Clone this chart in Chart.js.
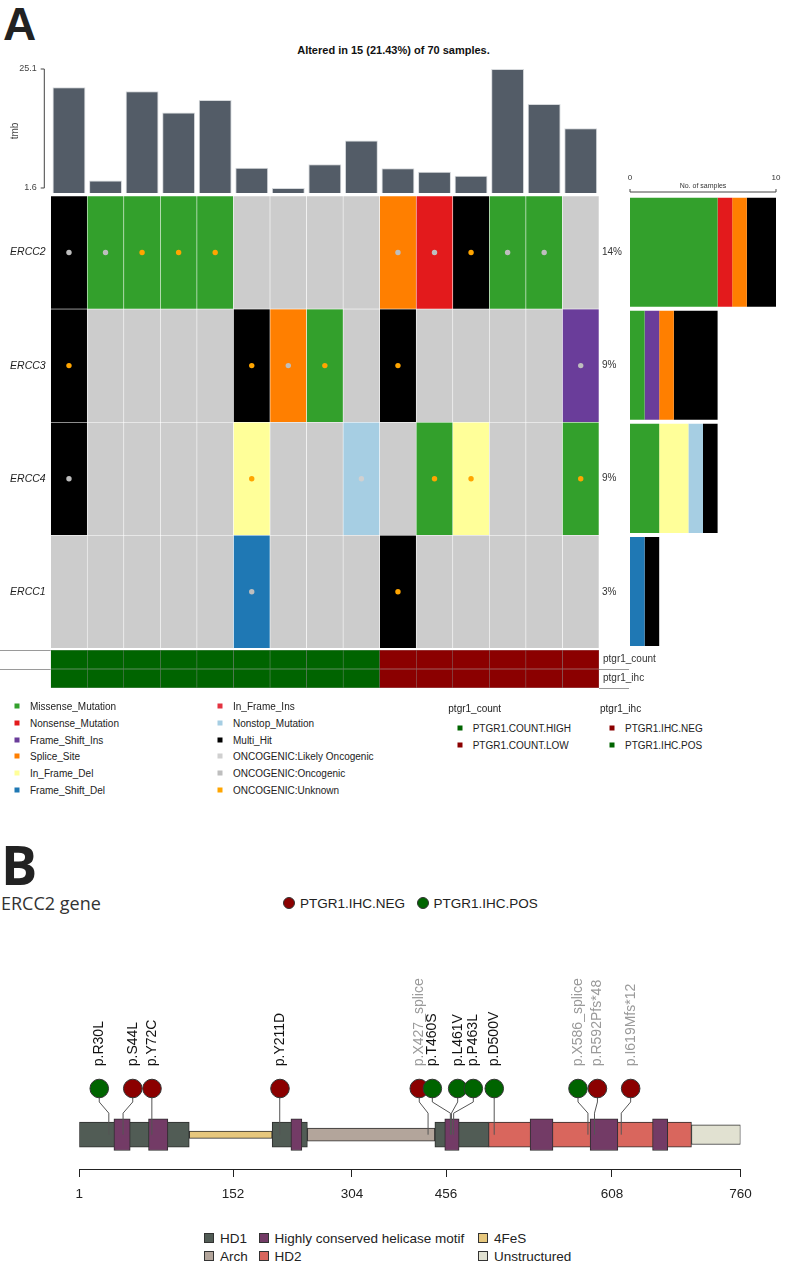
<!DOCTYPE html>
<html>
<head>
<meta charset="utf-8">
<title>ERCC oncoplot</title>
<script src="https://cdn.jsdelivr.net/npm/chart.js@4.4.1/dist/chart.umd.min.js"></script>
<style>
  html, body { margin: 0; padding: 0; background: #fff; }
  #page { position: relative; width: 787px; height: 1277px; overflow: hidden;
          font-family: 'Liberation Sans', Arial, sans-serif; color: #222; }
  .box { position: absolute; }
  .txt { position: absolute; white-space: nowrap; line-height: 1; transform: translateY(-50%); }
  .sq { position: absolute; transform: translate(-50%, -50%); }
</style>
</head>
<body>
<div id="page">
  <div class="txt" style="left:3px;top:24px;font:bold 46px 'Liberation Sans';">A</div>
  <div class="txt" style="left:0;width:787px;text-align:center;top:50px;font:bold 11px 'Liberation Sans';color:#111;">Altered in 15 (21.43%) of 70 samples.</div>

  <div class="box" style="left:0;top:0;width:787px;height:213px;"><canvas id="tmbChart"></canvas></div>
  <div class="box" style="left:0;top:183.7px;width:787px;height:476.3px;"><canvas id="gridChart"></canvas></div>
  <div class="box" style="left:599px;top:170px;width:188px;height:480px;"><canvas id="countChart"></canvas></div>
  <div class="box" style="left:0;top:640px;width:787px;height:58px;"><canvas id="annoChart"></canvas></div>
  <div id="legendA"></div>

  <div class="txt" style="left:1px;top:864px;font:bold 54px 'Open Sans';">B</div>
  <div class="txt" style="left:1px;top:903px;font:18px 'Open Sans';color:#333;">ERCC2 gene</div>
  <div id="legendB"></div>
  <div class="box" style="left:0;top:960px;width:787px;height:240px;"><canvas id="lolliChart"></canvas></div>
  <div id="legendDomains"></div>
</div>

<script>
// ─── Datos: oncoplot (panel A) ─────────────────────────
const genes = ['ERCC2', 'ERCC3', 'ERCC4', 'ERCC1'];
const totalSamples = 70;
const sampleIds = ['S01', 'S02', 'S03', 'S04', 'S05', 'S06', 'S07', 'S08', 'S09', 'S10', 'S11', 'S12', 'S13', 'S14', 'S15'];
const tmb = [21.5, 3.1, 20.7, 16.5, 19.0, 5.6, 1.6, 6.3, 11.0, 5.5, 4.8, 4.0, 25.1, 18.2, 13.4];
const tmbTicks = [1.6, 25.1];

// variant classification per gene (MS missense, NS nonsense, FI frame-shift ins, SS splice,
// ID in-frame del, NT nonstop, FD frame-shift del, MH multi hit, '' none)
const vcERCC2 = ['MH', 'MS', 'MS', 'MS', 'MS', '', '', '', '', 'SS', 'NS', 'MH', 'MS', 'MS', ''];
const vcERCC3 = ['MH', '', '', '', '', 'MH', 'SS', 'MS', '', 'MH', '', '', '', '', 'FI'];
const vcERCC4 = ['MH', '', '', '', '', 'ID', '', '', 'NT', '', 'MS', 'ID', '', '', 'MS'];
const vcERCC1 = ['', '', '', '', '', 'FD', '', '', '', 'MH', '', '', '', '', ''];

// oncogenic annotation dots (L likely oncogenic, O oncogenic, U unknown)
const onERCC2 = ['O', 'O', 'U', 'U', 'U', '', '', '', '', 'O', 'O', 'U', 'O', 'O', ''];
const onERCC3 = ['U', '', '', '', '', 'U', 'O', 'U', '', 'U', '', '', '', '', 'O'];
const onERCC4 = ['O', '', '', '', '', 'U', '', '', 'L', '', 'U', 'U', '', '', 'U'];
const onERCC1 = ['', '', '', '', '', 'O', '', '', '', 'U', '', '', '', '', ''];

const ptgr1Count = ['HIGH', 'HIGH', 'HIGH', 'HIGH', 'HIGH', 'HIGH', 'HIGH', 'HIGH', 'HIGH', 'LOW', 'LOW', 'LOW', 'LOW', 'LOW', 'LOW'];
const ptgr1Ihc = ['POS', 'POS', 'POS', 'POS', 'POS', 'POS', 'POS', 'POS', 'POS', 'NEG', 'NEG', 'NEG', 'NEG', 'NEG', 'NEG'];
const countTicks = [0, 10];

// ─── Datos: lollipop ERCC2 (panel B) ───────────────────
const mutLabels = ['p.R30L', 'p.S44L', 'p.Y72C', 'p.Y211D', 'p.X427_splice', 'p.T460S', 'p.L461V', 'p.P463L', 'p.D500V', 'p.X586_splice', 'p.R592Pfs*48', 'p.I619Mfs*12'];
const mutPos = [30, 44, 72, 211, 427, 460, 461, 463, 500, 586, 592, 619];
const mutHead = [20.6, 53.5, 72.4, 212, 412.8, 433.9, 466.7, 481, 500.2, 576.9, 594.7, 630.1];   // spread-out head positions (aa)
const mutIhc = ['POS', 'NEG', 'NEG', 'NEG', 'NEG', 'POS', 'POS', 'POS', 'POS', 'POS', 'NEG', 'NEG'];
const proteinTicks = [1, 152, 304, 456, 608, 760];

const hd1Ranges = [[1, 109], [202, 247], [438, 495]];
const motifRanges = [[35, 51], [69, 88], [226, 240], [454, 468], [533, 554], [588, 615], [656, 674]];
const feSRanges = [[109, 202]];
const archRanges = [[247, 438]];
const hd2Ranges = [[495, 702]];
const unstructRanges = [[702, 760]];

// ─── Estilos ───────────────────────────────────────────
const vcNames = { MS: 'Missense_Mutation', NS: 'Nonsense_Mutation', FI: 'Frame_Shift_Ins', SS: 'Splice_Site',
  ID: 'In_Frame_Del', FD: 'Frame_Shift_Del', II: 'In_Frame_Ins', NT: 'Nonstop_Mutation', MH: 'Multi_Hit' };
const vcColor = { MS: '#33A02C', NS: '#E31A1C', FI: '#6A3D9A', SS: '#FF7F00', ID: '#FFFF99',
  FD: '#1F78B4', II: '#E33340', NT: '#A6CEE3', MH: '#000000' };
const onColor = { L: '#D0D0D0', O: '#BEBEBE', U: '#FFA500' };
const emptyCell = '#CCCCCC';
const annoColor = { HIGH: '#006400', LOW: '#8B0000', POS: '#006400', NEG: '#8B0000' };
const domainColor = { hd1: '#515C55', motif: '#733B66', fes: '#E6C77D', arch: '#B3A59B', hd2: '#D9665D', un: '#E1E1D1' };

Chart.defaults.font.family = "'Liberation Sans', Arial, sans-serif";
Chart.defaults.color = '#222';
Chart.defaults.animation = false;
Chart.defaults.plugins.legend.display = false;
Chart.defaults.plugins.tooltip.enabled = false;

const vcRows = [vcERCC2, vcERCC3, vcERCC4, vcERCC1];
const onRows = [onERCC2, onERCC3, onERCC4, onERCC1];
const leftW = 50.7, rightW = 188;
const noGrid = { display: false, drawTicks: false };

// ─── TMB bars ──────────────────────────────────────────
new Chart(document.getElementById('tmbChart'), {
  type: 'bar',
  data: {
    labels: sampleIds,
    datasets: [{
      data: tmb, backgroundColor: '#535C67', borderColor: '#D6D9DC', borderWidth: 1,
      barPercentage: 0.9, categoryPercentage: 1, borderSkipped: false,
    }],
  },
  options: {
    responsive: true, maintainAspectRatio: false,
    layout: { padding: { top: 69, bottom: 20, right: rightW } },
    scales: {
      x: { display: false },
      y: {
        min: 0.61, max: 25.1,
        afterFit: (s) => { s.width = leftW; },
        afterBuildTicks: (s) => { s.ticks = tmbTicks.map((v) => ({ value: v })); },
        ticks: { autoSkip: false, padding: 14, color: '#444', font: { size: 9 }, callback: (v) => String(v) },
        grid: noGrid, border: { display: false },
      },
    },
  },
  plugins: [{
    id: 'tmbAxis',
    afterDraw(chart) {
      const { ctx, chartArea } = chart, y = chart.scales.y;
      const x = chartArea.left - 6.4;
      ctx.save();
      ctx.strokeStyle = '#444'; ctx.lineWidth = 1;
      ctx.beginPath();
      ctx.moveTo(x, y.getPixelForValue(tmbTicks[0])); ctx.lineTo(x, y.getPixelForValue(tmbTicks[1]));
      tmbTicks.forEach((v) => { const py = y.getPixelForValue(v); ctx.moveTo(x, py); ctx.lineTo(x - 3.6, py); });
      ctx.stroke();
      ctx.translate(15, (chartArea.top + chartArea.bottom) / 2);
      ctx.rotate(-Math.PI / 2);
      ctx.fillStyle = '#444'; ctx.font = "10px 'Liberation Sans'";
      ctx.textAlign = 'center'; ctx.textBaseline = 'middle';
      ctx.fillText('tmb', 0, 0);
      ctx.restore();
    },
  }],
});

// ─── Oncoplot grid ─────────────────────────────────────
const rowTicks = (s) => { s.ticks = genes.map((g, i) => ({ value: i + 0.5 })); };
const pctLabels = vcRows.map((r) => Math.round(r.filter((c) => c).length / totalSamples * 100) + '%');

new Chart(document.getElementById('gridChart'), {
  type: 'bar',
  data: {
    labels: sampleIds,
    datasets: [
      ...onRows.map((row, gi) => ({
        type: 'line', showLine: false,
        data: row.map((o) => (o ? gi + 0.5 : null)),
        pointRadius: 2.7, pointBorderWidth: 0,
        pointBackgroundColor: row.map((o) => onColor[o] || 'transparent'),
      })),
      ...vcRows.map((row, gi) => ({
        label: genes[gi],
        data: row.map(() => [gi, gi + 1]),
        backgroundColor: row.map((c) => vcColor[c] || emptyCell),
        borderColor: 'rgba(255,255,255,0.45)', borderWidth: 0.6, borderSkipped: false,
        grouped: false, barPercentage: 1, categoryPercentage: 1,
      })),
    ],
  },
  options: {
    responsive: true, maintainAspectRatio: false,
    layout: { padding: { top: 12, bottom: 12 } },
    scales: {
      x: { display: false },
      y: {
        min: 0, max: 4, reverse: true,
        afterFit: (s) => { s.width = leftW; }, afterBuildTicks: rowTicks,
        ticks: { autoSkip: false, padding: 5, font: { size: 10.5, style: 'italic' }, callback: (v, i) => genes[i] },
        grid: noGrid, border: { display: false },
      },
      y2: {
        position: 'right', min: 0, max: 4, reverse: true,
        afterFit: (s) => { s.width = rightW; }, afterBuildTicks: rowTicks,
        ticks: { autoSkip: false, padding: 3, font: { size: 10 }, color: '#333', callback: (v, i) => pctLabels[i] },
        grid: noGrid, border: { display: false },
      },
    },
  },
});

// ─── Samples per gene (right bars) ─────────────────────
const vcOrder = ['MS', 'NS', 'FI', 'SS', 'ID', 'NT', 'FD', 'MH'];
new Chart(document.getElementById('countChart'), {
  type: 'bar',
  data: {
    labels: genes,
    datasets: vcOrder.map((k) => ({
      label: vcNames[k],
      data: vcRows.map((r) => r.filter((c) => c === k).length),
      backgroundColor: vcColor[k], borderWidth: 0,
      barPercentage: 0.965, categoryPercentage: 1,
    })),
  },
  options: {
    indexAxis: 'y', responsive: true, maintainAspectRatio: false,
    layout: { padding: { left: 31, right: 11, top: 25.7, bottom: 2 } },
    scales: {
      x: { display: false, stacked: true, min: countTicks[0], max: countTicks[1] },
      y: { display: false, stacked: true },
    },
  },
  plugins: [{
    id: 'countAxis',
    afterDraw(chart) {
      const { ctx, chartArea } = chart, x = chart.scales.x;
      const y = chartArea.top - 3.7;
      const x0 = x.getPixelForValue(countTicks[0]), x1 = x.getPixelForValue(countTicks[1]);
      ctx.save();
      ctx.strokeStyle = '#444'; ctx.lineWidth = 1;
      ctx.beginPath();
      ctx.moveTo(x0, y); ctx.lineTo(x1, y);
      countTicks.forEach((v) => { const px = x.getPixelForValue(v); ctx.moveTo(px, y); ctx.lineTo(px, y - 3); });
      ctx.stroke();
      ctx.fillStyle = '#333'; ctx.textAlign = 'center'; ctx.textBaseline = 'middle';
      ctx.font = "8px 'Liberation Sans'";
      countTicks.forEach((v) => ctx.fillText(String(v), x.getPixelForValue(v), y - 14));
      ctx.font = "7px 'Liberation Sans'";
      ctx.fillText('No. of samples', (x0 + x1) / 2, y - 6);
      ctx.restore();
    },
  }],
});

// ─── Clinical annotation rows ──────────────────────────
const annoNames = ['ptgr1_count', 'ptgr1_ihc'];
new Chart(document.getElementById('annoChart'), {
  type: 'bar',
  data: {
    labels: sampleIds,
    datasets: [ptgr1Count, ptgr1Ihc].map((row, ri) => ({
      label: annoNames[ri],
      data: row.map(() => [ri, ri + 1]),
      backgroundColor: row.map((v) => annoColor[v]),
      borderColor: 'rgba(0,0,0,0.35)', borderWidth: 0.5, borderSkipped: false,
      grouped: false, barPercentage: 1, categoryPercentage: 1,
    })),
  },
  options: {
    responsive: true, maintainAspectRatio: false,
    layout: { padding: { top: 10, bottom: 10, left: leftW } },
    scales: {
      x: { display: false },
      y: {
        position: 'right', min: 0, max: 2, reverse: true,
        afterFit: (s) => { s.width = rightW; },
        afterBuildTicks: (s) => { s.ticks = annoNames.map((n, i) => ({ value: i + 0.5 })); },
        ticks: { autoSkip: false, padding: 4, font: { size: 10 }, color: '#333', callback: (v, i) => annoNames[i] },
        grid: noGrid, border: { display: false },
      },
    },
  },
  plugins: [{
    id: 'annoLines',
    afterDraw(chart) {
      const { ctx, chartArea } = chart, y = chart.scales.y;
      ctx.save();
      ctx.strokeStyle = '#9A9A9A'; ctx.lineWidth = 1;
      ctx.beginPath();
      [0, 1].forEach((v) => { const py = Math.round(y.getPixelForValue(v)) + 0.5; ctx.moveTo(0, py); ctx.lineTo(chartArea.left, py); });
      [1, 2].forEach((v) => { const py = Math.round(y.getPixelForValue(v)) + 0.5; ctx.moveTo(chartArea.right, py); ctx.lineTo(chartArea.right + 30, py); });
      ctx.stroke();
      ctx.restore();
    },
  }],
});

// ─── Legends (panel A) ─────────────────────────────────
const legendA = document.getElementById('legendA');
const addItem = (host, x, y, color, text, size, font, border) => {
  if (color) {
    const s = document.createElement('div');
    s.className = 'sq';
    s.style.cssText += `left:${x}px;top:${y}px;width:${size}px;height:${size}px;background:${color};` +
      (border ? 'box-sizing:border-box;border:1px solid #333;' : '');
    host.appendChild(s);
  }
  const t = document.createElement('div');
  t.className = 'txt';
  t.style.cssText += `left:${x + (color ? (size > 6 ? 11 : 12.7) : 0)}px;top:${y}px;font:${font};`;
  t.textContent = text;
  host.appendChild(t);
};
const legRowY = [705.7, 722.6, 739.5, 756.4, 773.3, 790.2];
const legCol1 = ['MS', 'NS', 'FI', 'SS', 'ID', 'FD'];
const legCol2 = ['II', 'NT', 'MH'];
const legOnco = [['L', 'ONCOGENIC:Likely Oncogenic'], ['O', 'ONCOGENIC:Oncogenic'], ['U', 'ONCOGENIC:Unknown']];
const legFont = "10px 'Liberation Sans'";
legCol1.forEach((k, i) => addItem(legendA, 17.3, legRowY[i], vcColor[k], vcNames[k], 5, legFont));
legCol2.forEach((k, i) => addItem(legendA, 220.3, legRowY[i], vcColor[k], vcNames[k], 5, legFont));
legOnco.forEach(([k, name], i) => addItem(legendA, 220.3, legRowY[i + 3], onColor[k], name, 5, legFont));
addItem(legendA, 448.3, 707.7, null, 'ptgr1_count', 0, legFont);
addItem(legendA, 460, 728.3, annoColor.HIGH, 'PTGR1.COUNT.HIGH', 5, legFont);
addItem(legendA, 460, 745.3, annoColor.LOW, 'PTGR1.COUNT.LOW', 5, legFont);
addItem(legendA, 600, 707.7, null, 'ptgr1_ihc', 0, legFont);
addItem(legendA, 612.3, 728.3, annoColor.NEG, 'PTGR1.IHC.NEG', 5, legFont);
addItem(legendA, 612.3, 745.3, annoColor.POS, 'PTGR1.IHC.POS', 5, legFont);

// ─── Lollipop (panel B) ────────────────────────────────
class PiecewiseScale extends Chart.LinearScale {
  toDecimal(v) {
    const b = this.options.breaks, f = this.options.fractions;
    let i = 1;
    while (i < b.length - 1 && v > b[i]) i++;
    return f[i - 1] + (v - b[i - 1]) / (b[i] - b[i - 1]) * (f[i] - f[i - 1]);
  }
  getPixelForValue(v) {
    return v === null || isNaN(v) ? NaN : this.getPixelForDecimal(this.toDecimal(v));
  }
  getValueForPixel(p) {
    const b = this.options.breaks, f = this.options.fractions;
    const d = this.getDecimalForPixel(p);
    let i = 1;
    while (i < f.length - 1 && d > f[i]) i++;
    return b[i - 1] + (d - f[i - 1]) / (f[i] - f[i - 1]) * (b[i] - b[i - 1]);
  }
}
PiecewiseScale.id = 'piecewise';
PiecewiseScale.defaults = Chart.LinearScale.defaults;
Chart.register(PiecewiseScale);

const barY = 19, kneeLow = 47.3, kneeHigh = 62, headY = 79.7, labelY = 109;
const greyLabel = (l) => /splice|fs\*/.test(l);
const domainSet = (ranges, color, thickness) => ({
  type: 'bar', indexAxis: 'y', grouped: false,
  data: ranges.map((r) => ({ x: r, y: barY })),
  backgroundColor: color, borderColor: '#2E2E2E', borderWidth: 1, borderSkipped: false,
  barThickness: thickness,
});

new Chart(document.getElementById('lolliChart'), {
  type: 'line',
  data: {
    datasets: [
      {
        type: 'line', showLine: false,
        data: mutHead.map((h) => ({ x: h, y: headY })),
        pointRadius: 9.3, pointBorderWidth: 1, pointBorderColor: '#333',
        pointBackgroundColor: mutIhc.map((v) => annoColor[v]),
      },
      ...mutPos.map((p, i) => ({
        type: 'line', tension: 0, pointRadius: 0, borderColor: '#555', borderWidth: 1,
        data: [{ x: p, y: barY }, { x: p, y: kneeLow }, { x: mutHead[i], y: kneeHigh }, { x: mutHead[i], y: headY }],
      })),
      domainSet(motifRanges, domainColor.motif, 31.7),
      domainSet(hd1Ranges, domainColor.hd1, 25),
      domainSet(hd2Ranges, domainColor.hd2, 25),
      domainSet(unstructRanges, domainColor.un, 19.7),
      domainSet(archRanges, domainColor.arch, 13),
      domainSet(feSRanges, domainColor.fes, 7.3),
    ],
  },
  options: {
    responsive: true, maintainAspectRatio: false,
    layout: { padding: { left: 79.3, right: 46.5, top: 0, bottom: 0 } },
    scales: {
      x: {
        type: 'piecewise', min: 1, max: 760,
        breaks: proteinTicks, fractions: [0, 0.2325, 0.4124, 0.5546, 0.8056, 1],
        afterFit: (s) => { s.height = 31; },
        afterBuildTicks: (s) => { s.ticks = proteinTicks.map((v) => ({ value: v })); },
        ticks: { autoSkip: false, maxRotation: 0, padding: 9, color: '#222',
                 font: { size: 13.5 }, callback: (v) => String(v) },
        grid: { drawOnChartArea: false, tickLength: 8, color: '#222', tickColor: '#222' },
        border: { display: true, color: '#222', width: 1 },
      },
      y: { display: false, min: 0, max: 209 },
    },
  },
  plugins: [{
    id: 'mutLabels',
    afterDatasetsDraw(chart) {
      const { ctx } = chart, heads = chart.getDatasetMeta(0).data;
      const py = chart.scales.y.getPixelForValue(labelY);
      ctx.save();
      ctx.font = "14px 'Liberation Sans'";
      ctx.textAlign = 'left'; ctx.textBaseline = 'middle';
      heads.forEach((pt, i) => {
        ctx.save();
        ctx.translate(pt.x, py);
        ctx.rotate(-Math.PI / 2);
        ctx.fillStyle = greyLabel(mutLabels[i]) ? '#9A9A9A' : '#111';
        ctx.fillText(mutLabels[i], 0, 0);
        ctx.restore();
      });
      ctx.restore();
    },
  }],
});

// ─── Legends (panel B) ─────────────────────────────────
const legendB = document.getElementById('legendB');
[['NEG', 289.3], ['POS', 422.7]].forEach(([k, x]) => {
  const c = document.createElement('div');
  c.className = 'sq';
  c.style.cssText += `left:${x}px;top:902.7px;width:12px;height:12px;border-radius:50%;background:${annoColor[k]};box-sizing:border-box;border:1px solid #333;`;
  legendB.appendChild(c);
  const t = document.createElement('div');
  t.className = 'txt';
  t.style.cssText += `left:${x + 10.7}px;top:903px;font:13.5px 'Liberation Sans';`;
  t.textContent = 'PTGR1.IHC.' + k;
  legendB.appendChild(t);
});

const legendD = document.getElementById('legendDomains');
const domLegend = [
  [209, 1238, domainColor.hd1, 'HD1'], [263.5, 1238, domainColor.motif, 'Highly conserved helicase motif'],
  [483, 1238, domainColor.fes, '4FeS'], [209, 1256, domainColor.arch, 'Arch'],
  [263.5, 1256, domainColor.hd2, 'HD2'], [483, 1256, domainColor.un, 'Unstructured'],
];
domLegend.forEach(([x, y, c, name]) => addItem(legendD, x, y, c, name, 10, "13.5px 'Liberation Sans'", true));
</script>
</body>
</html>
